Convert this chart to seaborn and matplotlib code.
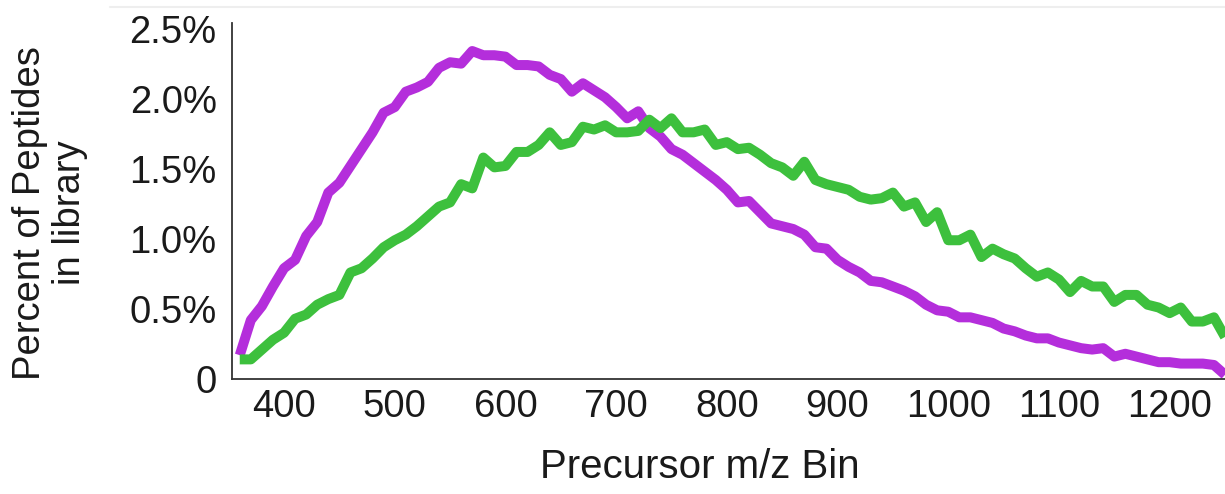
import numpy as np
import pandas as pd
import matplotlib
matplotlib.use("Agg")
import matplotlib.pyplot as plt
from matplotlib.lines import Line2D
import seaborn as sns

# ---- data ----
mz_bins = list(range(360, 1251, 10))

purple_pct = [0.17, 0.42, 0.52, 0.66, 0.79, 0.85, 1.02, 1.12, 1.33, 1.40,
              1.52, 1.64, 1.76, 1.90, 1.94, 2.05, 2.08, 2.12, 2.22, 2.26,
              2.25, 2.34, 2.31, 2.31, 2.30, 2.24, 2.24, 2.23, 2.17, 2.14,
              2.05, 2.11, 2.06, 2.01, 1.94, 1.86, 1.91, 1.79, 1.73, 1.64,
              1.60, 1.54, 1.48, 1.42, 1.35, 1.26, 1.27, 1.19, 1.11, 1.09,
              1.07, 1.03, 0.94, 0.93, 0.85, 0.80, 0.76, 0.70, 0.69, 0.66,
              0.63, 0.59, 0.53, 0.49, 0.48, 0.44, 0.44, 0.42, 0.40, 0.36,
              0.34, 0.31, 0.29, 0.29, 0.26, 0.24, 0.22, 0.21, 0.22, 0.16,
              0.18, 0.16, 0.14, 0.12, 0.12, 0.11, 0.11, 0.11, 0.10, 0.03]

green_pct = [0.14, 0.14, 0.21, 0.28, 0.33, 0.43, 0.46, 0.53, 0.57, 0.60,
             0.76, 0.79, 0.86, 0.94, 0.99, 1.03, 1.09, 1.16, 1.23, 1.26,
             1.39, 1.36, 1.58, 1.51, 1.52, 1.62, 1.62, 1.67, 1.76, 1.67,
             1.69, 1.80, 1.78, 1.81, 1.76, 1.76, 1.77, 1.85, 1.79, 1.86,
             1.76, 1.76, 1.78, 1.67, 1.69, 1.64, 1.65, 1.60, 1.54, 1.51,
             1.45, 1.55, 1.42, 1.39, 1.37, 1.35, 1.30, 1.28, 1.29, 1.33,
             1.23, 1.26, 1.12, 1.19, 0.99, 0.99, 1.03, 0.87, 0.93, 0.89,
             0.86, 0.79, 0.73, 0.76, 0.71, 0.62, 0.70, 0.66, 0.66, 0.55,
             0.60, 0.60, 0.53, 0.51, 0.47, 0.51, 0.41, 0.41, 0.44, 0.30]

series_names = ["Library A", "Library B"]
series_colors = ["#B42EDB", "#3DC03D"]

x_ticks = [400, 500, 600, 700, 800, 900, 1000, 1100, 1200]
y_ticks = [0, 0.5, 1.0, 1.5, 2.0, 2.5]
y_tick_labels = ["0", "0.5%", "1.0%", "1.5%", "2.0%", "2.5%"]

# ---- build frame ----
df = pd.DataFrame({
    "mz": mz_bins * 2,
    "pct": purple_pct + green_pct,
    "series": [series_names[0]] * len(mz_bins) + [series_names[1]] * len(mz_bins),
})

sns.set_theme(style="white")
plt.rcParams["font.family"] = ["Liberation Sans", "DejaVu Sans"]

fig = plt.figure(figsize=(12.25, 4.94), dpi=100)
ax = fig.add_axes([232 / 1225, 1 - 379 / 494, 1 - 232 / 1225, (379 - 23) / 494])

sns.lineplot(data=df, x="mz", y="pct", hue="series",
             palette=dict(zip(series_names, series_colors)),
             linewidth=7.2, legend=False, ax=ax, solid_joinstyle="round",
             solid_capstyle="butt")

ax.set_xlim(353, 1250)
ax.set_ylim(0, 2.54)
ax.set_xticks(x_ticks)
ax.set_xticklabels([str(t) for t in x_ticks])
ax.set_yticks(y_ticks)
ax.set_yticklabels(y_tick_labels)

for side in ["top", "right"]:
    ax.spines[side].set_visible(False)
for side in ["left", "bottom"]:
    ax.spines[side].set_color("#333333")
    ax.spines[side].set_linewidth(1.3)

ax.tick_params(axis="both", which="major", direction="inout", length=8,
               width=1.3, color="#333333", labelsize=27.5, labelcolor="#1a1a1a")
ax.tick_params(axis="y", pad=7)
ax.tick_params(axis="x", pad=3)

ax.set_xlabel("Precursor m/z Bin", fontsize=29, color="#1a1a1a")
ax.set_ylabel("Percent of Peptides\nin library", fontsize=27.5, color="#1a1a1a",
              linespacing=1.15)
ax.xaxis.set_label_coords((700 - 232) / 993, -(467 - 379) / 356, transform=ax.transAxes)
ax.xaxis.label.set_va("center")
ax.yaxis.set_label_coords(-(232 - 50) / 993, (379 - 213) / 356, transform=ax.transAxes)
ax.yaxis.label.set_va("center")

ax.grid(False)

# faint top rule
fig.add_artist(Line2D([110 / 1225, 1.0], [1 - 7 / 494, 1 - 7 / 494],
                      transform=fig.transFigure, color="#eeeeee", linewidth=1.5))

fig.savefig("out.png", dpi=100)
